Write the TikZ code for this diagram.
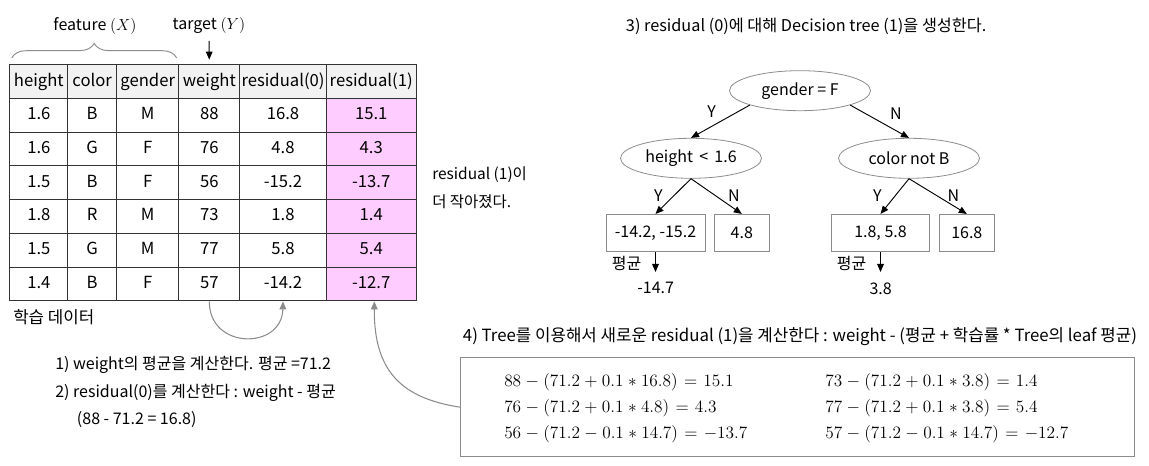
\documentclass[tikz,border=0pt]{standalone}
\usepackage{graphicx}
\usepackage{fontspec}
\setmainfont{Noto Sans CJK KR}
\usetikzlibrary{arrows.meta,shapes.geometric,decorations.pathreplacing}
\definecolor{hdr}{HTML}{F2F2F2}
\definecolor{pinkc}{HTML}{FFCCFF}
\definecolor{edgegray}{HTML}{8C8C8C}
\newcommand\eqm[1]{\scalebox{1.083}{$\medmuskip=4.5mu\thickmuskip=6.5mu #1$}}
\tikzset{
  cell/.style={draw=black!80, line width=0.8pt, anchor=north west, inner sep=0pt,
    minimum height=25.28pt, text height=9pt, text depth=2.5pt,
    font=\fontsize{12.5}{15}\selectfont},
  ell/.style={ellipse, draw=edgegray, line width=0.6pt, minimum width=105.75pt,
    minimum height=30pt, inner sep=0pt, font=\fontsize{12}{14}\selectfont},
  leaf/.style={rectangle, draw=edgegray, line width=0.6pt, minimum height=28pt,
    inner sep=0pt, font=\fontsize{12}{14}\selectfont},
  lbl/.style={inner sep=0pt, font=\fontsize{12}{14}\selectfont},
  txt/.style={inner sep=0pt, anchor=west, font=\fontsize{12}{14}\selectfont},
  eq/.style={inner sep=0pt, anchor=west, font=\fontsize{12}{14}\selectfont},
  tarrow/.style={black, line width=0.7pt, -{Triangle[length=6pt,width=5pt]}},
  garrow/.style={edgegray, line width=0.8pt, -{Triangle[length=6pt,width=5pt]}},
}
\newcommand\trow[9]{%
  \node[cell,fill=#2,minimum width=43.5pt]  (r#1c1) at (9.3,{64.3+33.71*#1}) {#4};
  \node[cell,fill=#2,minimum width=36.5pt]  (r#1c2) at (67.3,{64.3+33.71*#1}) {#5};
  \node[cell,fill=#2,minimum width=46.75pt] (r#1c3) at (116,{64.3+33.71*#1}) {#6};
  \node[cell,fill=#2,minimum width=45.75pt] (r#1c4) at (178.3,{64.3+33.71*#1}) {#7};
  \node[cell,fill=#2,minimum width=64.8pt]  (r#1c5) at (239.3,{64.3+33.71*#1}) {#8};
  \node[cell,fill=#3,minimum width=67.5pt]  (r#1c6) at (325.7,{64.3+33.71*#1}) {#9};}
\begin{document}
\begin{tikzpicture}[x=0.75pt,y=-0.75pt]
\useasboundingbox (0,0) rectangle (1149,466);
% ---- table
\trow{0}{hdr}{hdr}{height}{color}{gender}{weight}{residual(0)}{residual(1)}
\trow{1}{white}{pinkc}{1.6}{B}{M}{88}{16.8}{15.1}
\trow{2}{white}{pinkc}{1.6}{G}{F}{76}{4.8}{4.3}
\trow{3}{white}{pinkc}{1.5}{B}{F}{56}{-15.2}{-13.7}
\trow{4}{white}{pinkc}{1.8}{R}{M}{73}{1.8}{1.4}
\trow{5}{white}{pinkc}{1.5}{G}{M}{77}{5.8}{5.4}
\trow{6}{white}{pinkc}{1.4}{B}{F}{57}{-14.2}{-12.7}
% ---- labels above table
\node[lbl] (feat) at (95,26) {feature $(X)$};
\node[lbl] (tgt) at (209,26) {target $(Y)$};
\coordinate (bl) at (11.7,58);
\coordinate (br) at (176.7,58);
\draw[edgegray, line width=0.7pt, decorate, decoration={brace, amplitude=11pt}] (bl) -- (br);
\draw[tarrow, shorten <=5pt, shorten >=3.5pt] (tgt.south) -- (r0c4.north);
\node[txt, font=\fontsize{12.6}{15}\selectfont] (learn) at (13,316.7) {학습 데이터};
% ---- steps 1, 2
\node[txt] (s1) at (55,365) {1) weight의 평균을 계산한다. 평균 =71.2};
\node[txt] (s2) at (55,392.7) {2) residual(0)를 계산한다 : weight - 평균};
\node[txt] (s2b) at (76.7,420) {(88 - 71.2 = 16.8)};
\draw[garrow] (r6c4.south) .. controls (209,350) and (282,350) .. (r6c5.south);
% ---- note
\node[txt, font=\fontsize{11.6}{14}\selectfont] (note1) at (432,175) {residual (1)이};
\node[txt, font=\fontsize{11.6}{14}\selectfont] (note2) at (432,201.7) {더 작아졌다.};
% ---- step 3 tree
\node[txt, font=\fontsize{12.2}{14}\selectfont] (s3) at (625.7,26.7) {3) residual (0)에 대해 Decision tree (1)을 생성한다.};
\node[ell] (root) at (800,90.7) {gender = F};
\node[ell] (L) at (691,158.3) {height \,<\, 1.6};
\node[ell] (R) at (909,158.3) {color not B};
\node[leaf, minimum width=74.25pt] (b1) at (655.5,233) {-14.2, -15.2};
\node[leaf, minimum width=41.25pt] (b2) at (741.8,233) {4.8};
\node[leaf, minimum width=73.2pt] (b3) at (880.5,233) {1.8, 5.8};
\node[leaf, minimum width=41.25pt] (b4) at (966.8,233) {16.8};
\draw[tarrow] (root.196) -- (L.north);
\draw[tarrow] (root.-16) -- (R.north);
\draw[tarrow] (L.south) -- (b1.north);
\draw[tarrow] (L.south) -- (b2.north);
\draw[tarrow] (R.south) -- (b3.north);
\draw[tarrow] (R.south) -- (b4.north);
\node[lbl] (y1) at (711.7,111.7) {Y};
\node[lbl] (n1) at (896,113.3) {N};
\node[lbl] (y2) at (658.3,195.7) {Y};
\node[lbl] (n2) at (734,195.7) {N};
\node[lbl] (y3) at (877.3,195.7) {Y};
\node[lbl] (n3) at (953.3,195.7) {N};
\coordinate (a1) at (655.5,272);
\coordinate (a3) at (880.5,272);
\draw[tarrow] (b1.south) -- (a1);
\draw[tarrow] (b3.south) -- (a3);
\node[lbl] (avg1) at (626.7,263.3) {평균};
\node[lbl] (avg3) at (851.7,263.3) {평균};
\node[lbl] (m1) at (655.7,288.3) {-14.7};
\node[lbl] (m3) at (880.7,288.3) {3.8};
% ---- step 4
\node[txt, font=\fontsize{12.6}{15}\selectfont] (s4) at (462.7,336.7) {4) Tree를 이용해서 새로운 residual (1)을 계산한다 : weight - (평균 + 학습률 * Tree의 leaf 평균)};
\node[draw=edgegray, line width=0.7pt, minimum width=505pt, minimum height=74.25pt, inner sep=0pt] (eqbox) at (797.35,407.2) {};
\node[eq] (e1) at (504,381.7) {\eqm{88-(71.2+0.1\ast16.8)=15.1}};
\node[eq] (e2) at (504,408.3) {\eqm{76-(71.2+0.1\ast4.8)=4.3}};
\node[eq] (e3) at (504,434.3) {\eqm{56-(71.2-0.1\ast14.7)=-13.7}};
\node[eq] (e4) at (825,381.7) {\eqm{73-(71.2+0.1\ast3.8)=1.4}};
\node[eq] (e5) at (825,408.3) {\eqm{77-(71.2+0.1\ast3.8)=5.4}};
\node[eq] (e6) at (825,434.3) {\eqm{57-(71.2-0.1\ast14.7)=-12.7}};
\draw[garrow] (eqbox.west) .. controls (400,398) and (374,370) .. (r6c6.-80);
\end{tikzpicture}
\end{document}
